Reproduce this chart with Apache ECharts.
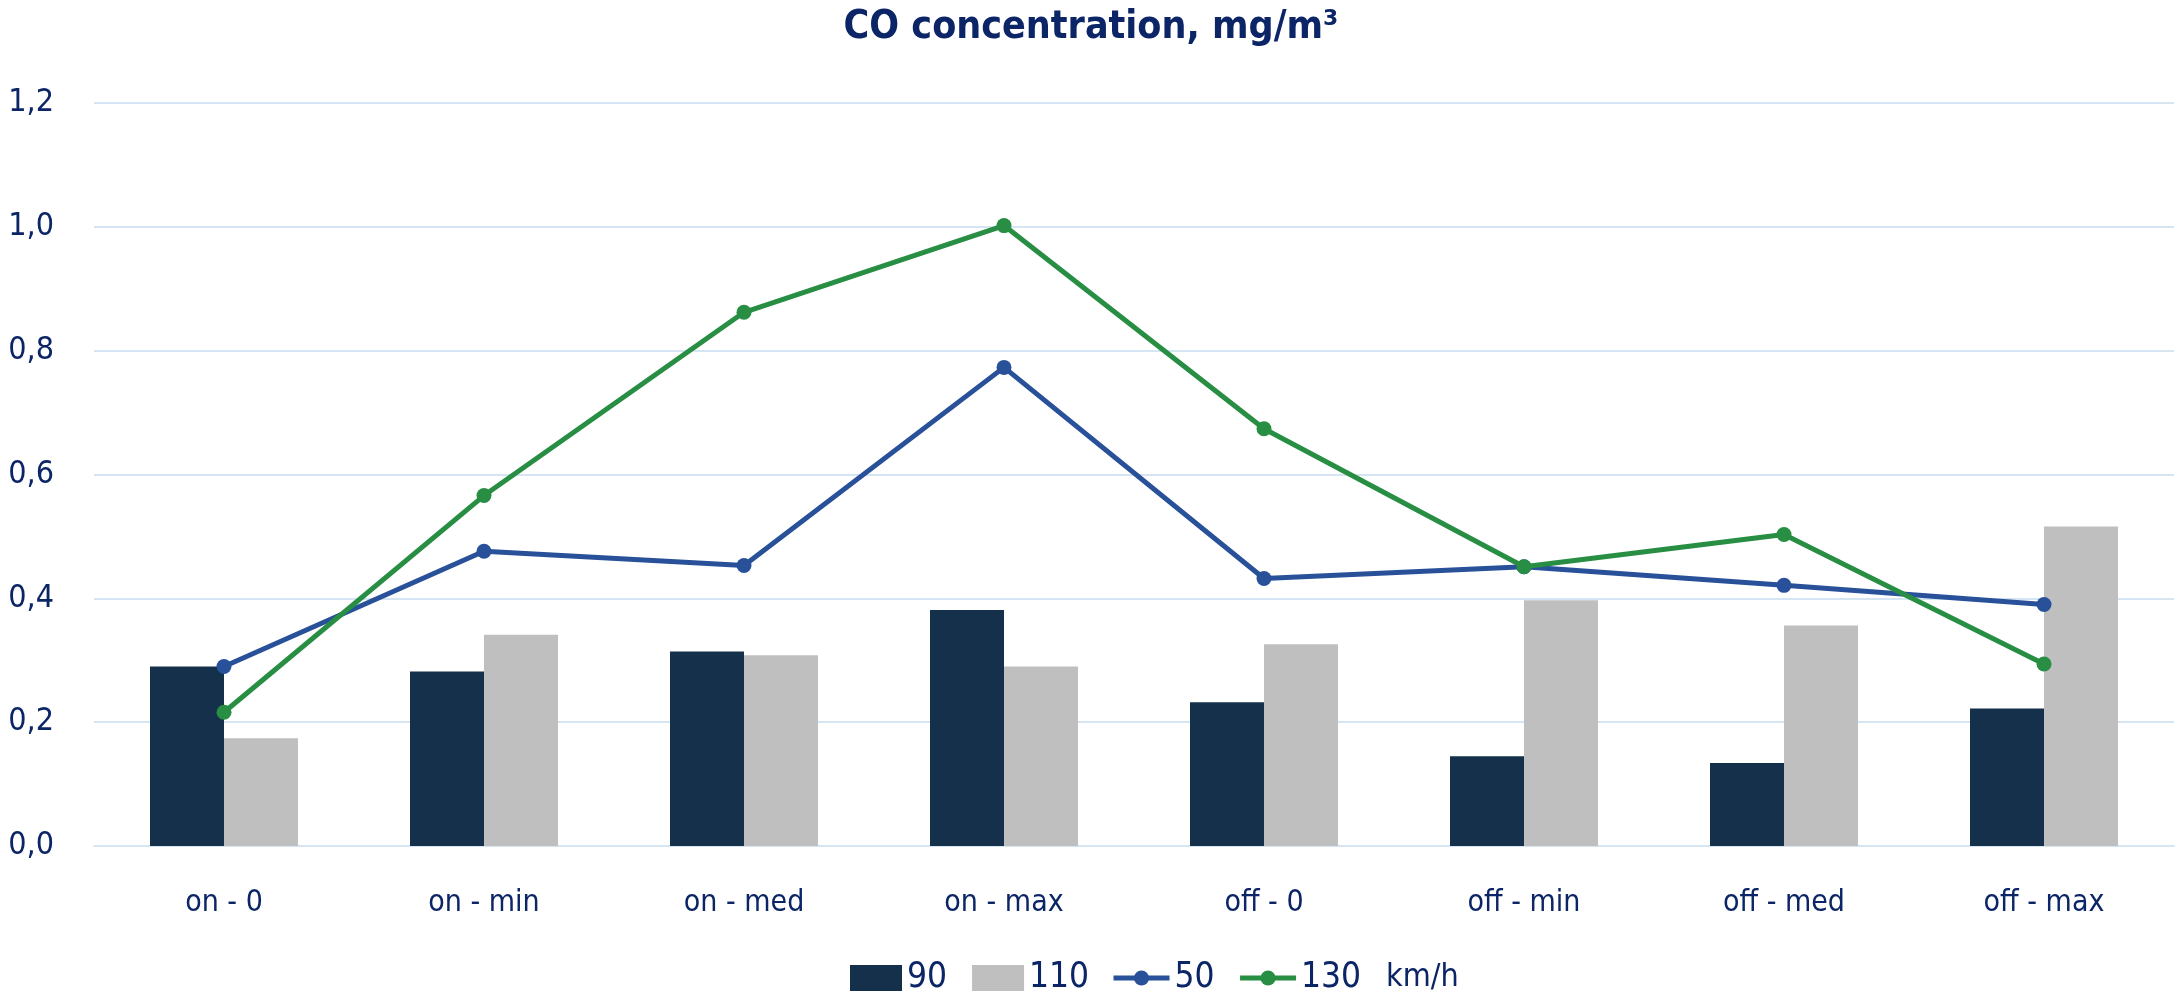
<!DOCTYPE html>
<html>
<head>
<meta charset="utf-8">
<script src="https://cdn.jsdelivr.net/npm/echarts@6/dist/echarts.min.js"></script>
<style>
html,body{margin:0;padding:0;background:#fff;}
#chart{width:2182px;height:998px;}
</style>
</head>
<body>
<div id="chart"></div>
<script>
const categories = ['on - 0','on - min','on - med','on - max','off - 0','off - min','off - med','off - max'];
const speed90  = [0.290, 0.282, 0.314, 0.381, 0.232, 0.145, 0.134, 0.222];
const speed110 = [0.174, 0.341, 0.308, 0.290, 0.326, 0.397, 0.356, 0.516];
const speed50  = [0.290, 0.476, 0.453, 0.773, 0.432, 0.451, 0.421, 0.390];
const speed130 = [0.216, 0.566, 0.862, 1.002, 0.674, 0.451, 0.503, 0.294];
const seriesNames = ['90','110','50','130'];
const titleText = 'CO concentration, mg/m\u00B3';
const unitText = 'km/h';

const FONT = "'DejaVu Sans Condensed', 'DejaVu Sans', sans-serif";
const NAVY = '#0b2566';
const GRID = '#d6e5f3';
const LEG_FS = 35;
const UNIT_FS = 32;

// layout helpers for the legend row (positions only, no data)
const mctx = document.createElement('canvas').getContext('2d');
function tw(t, fs) { mctx.font = fs + 'px ' + FONT; return mctx.measureText(t).width; }
const barIconW = 52, lineIconW = 56, txtPad = 5;
const w1 = barIconW + txtPad + tw(seriesNames[0], LEG_FS) + 25 + barIconW + txtPad + tw(seriesNames[1], LEG_FS);
const w2 = lineIconW + txtPad + tw(seriesNames[2], LEG_FS) + 23 + lineIconW + txtPad + tw(seriesNames[3], LEG_FS);
const total = w1 + 22 + w2 + 30 + tw(unitText, UNIT_FS);
const legLeft1 = Math.round(1154 - total / 2);
const legLeft2 = Math.round(legLeft1 + w1 + 22);
const unitLeft = Math.round(legLeft2 + w2 + 30);

const chart = echarts.init(document.getElementById('chart'), null, {renderer:'canvas'});
chart.setOption({
  animation: false,
  backgroundColor: '#ffffff',
  title: {
    text: titleText,
    left: 'center',
    top: 8,
    padding: 0,
    textStyle: {fontFamily: FONT, fontSize: 39, fontWeight: 'bold', color: NAVY}
  },
  legend: [
    {
      data: [seriesNames[0], seriesNames[1]],
      icon: 'rect',
      left: legLeft1, top: 960, padding: 0,
      itemWidth: barIconW, itemHeight: 26, itemGap: 25,
      selectedMode: false,
      textStyle: {fontFamily: FONT, fontSize: LEG_FS, color: NAVY, lineHeight: 36}
    },
    {
      data: [seriesNames[2], seriesNames[3]],
      left: legLeft2, top: 960, padding: 0,
      itemWidth: lineIconW, itemHeight: 19, itemGap: 23,
      selectedMode: false,
      lineStyle: {width: 5},
      textStyle: {fontFamily: FONT, fontSize: LEG_FS, color: NAVY, lineHeight: 36}
    }
  ],
  graphic: [{
    type: 'text',
    left: unitLeft, top: 962,
    style: {text: unitText, fontFamily: FONT, fontSize: UNIT_FS, fill: NAVY}
  }],
  grid: {left: 94, right: 8, top: 103, bottom: 152, containLabel: false},
  xAxis: {
    type: 'category',
    data: categories,
    axisLine: {show: true, lineStyle: {color: GRID, width: 2}},
    axisTick: {show: false},
    axisLabel: {fontFamily: FONT, fontSize: 30, color: NAVY, margin: 42}
  },
  yAxis: {
    type: 'value',
    min: 0, max: 1.2, interval: 0.2,
    axisLine: {show: false},
    axisTick: {show: false},
    splitLine: {lineStyle: {color: GRID, width: 2}},
    axisLabel: {
      fontFamily: FONT, fontSize: 32, color: NAVY, margin: 40,
      formatter: v => v.toFixed(1).replace('.', ',')
    }
  },
  series: [
    {name: seriesNames[0], type: 'bar', data: speed90, barWidth: 74, barGap: '0%',
     itemStyle: {color: '#15304a'}},
    {name: seriesNames[1], type: 'bar', data: speed110, barWidth: 74, barGap: '0%',
     itemStyle: {color: '#bfbfbf'}},
    {name: seriesNames[2], type: 'line', data: speed50, symbol: 'circle', symbolSize: 15,
     lineStyle: {color: '#28519a', width: 5}, itemStyle: {color: '#28519a'}, z: 3},
    {name: seriesNames[3], type: 'line', data: speed130, symbol: 'circle', symbolSize: 15,
     lineStyle: {color: '#288e43', width: 5}, itemStyle: {color: '#288e43'}, z: 4}
  ]
});
</script>
</body>
</html>
